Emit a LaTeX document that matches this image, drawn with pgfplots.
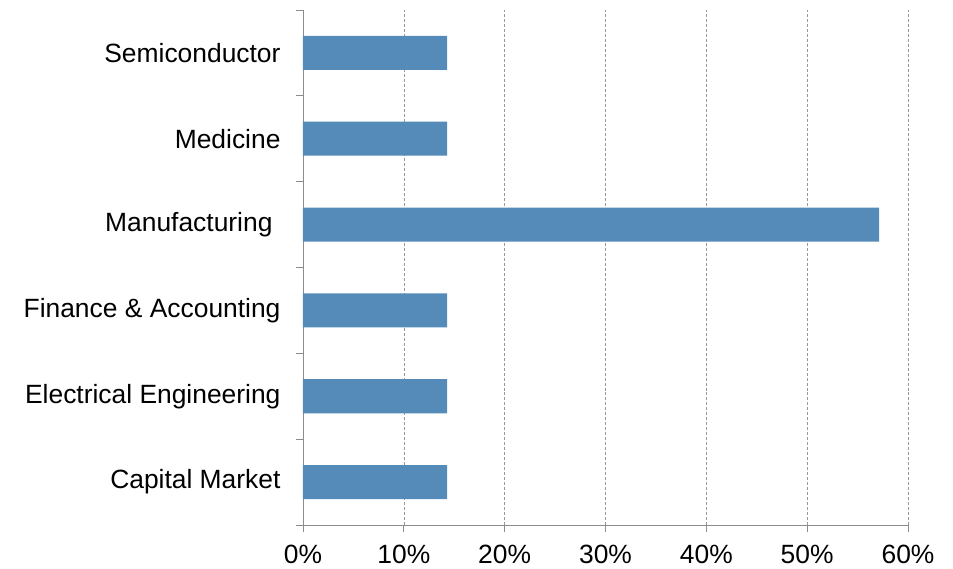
\documentclass[border=0pt]{standalone}
\usepackage{pgfplots}
\pgfplotsset{compat=1.18}
\usepackage{fontspec}
\setmainfont{Liberation Sans}
\definecolor{barblue}{RGB}{85,139,185}
\definecolor{axgray}{RGB}{140,140,140}
\begin{document}
\begin{tikzpicture}
\begin{axis}[
  scale only axis,
  width=605bp, height=515bp,
  xmin=0, xmax=60,
  ymin=-0.5, ymax=5.5,
  axis x line*=bottom,
  axis y line*=left,
  axis line style={axgray, line width=0.8bp},
  xtick={0,10,...,60},
  xticklabel={\pgfmathprintnumber{\tick}\%},
  /pgf/number format/assume math mode=true,
  xmajorgrids,
  major x grid style={densely dashed, gray!80, line width=0.6bp},
  ytick={0,1,2,3,4,5},
  yticklabels={Capital Market, Electrical Engineering, Finance \& Accounting, {Manufacturing\hspace*{8bp}}, Medicine, Semiconductor},
  minor ytick={-0.5,0.5,...,5.5},
  tick align=outside,
  major tick length=7bp,
  minor tick length=7bp,
  major y tick style={draw=none},
  minor y tick style={axgray, line width=0.8bp},
  xtick style={axgray, line width=0.8bp},
  ticklabel style={font=\fontsize{26.4bp}{30bp}\selectfont, text=black},
  yticklabel style={xshift=-12bp},
  xticklabel style={yshift=-10bp},
]
\addplot[xbar, bar width=34bp, fill=barblue, draw=none] coordinates {
  (14.29,0) (14.29,1) (14.29,2) (57.14,3) (14.29,4) (14.29,5)
};
\end{axis}
\pgfresetboundingbox
\path ([xshift=-303bp,yshift=-44bp]current axis.south west) rectangle ([xshift=650bp,yshift=525bp]current axis.south west);
\end{tikzpicture}
\end{document}
